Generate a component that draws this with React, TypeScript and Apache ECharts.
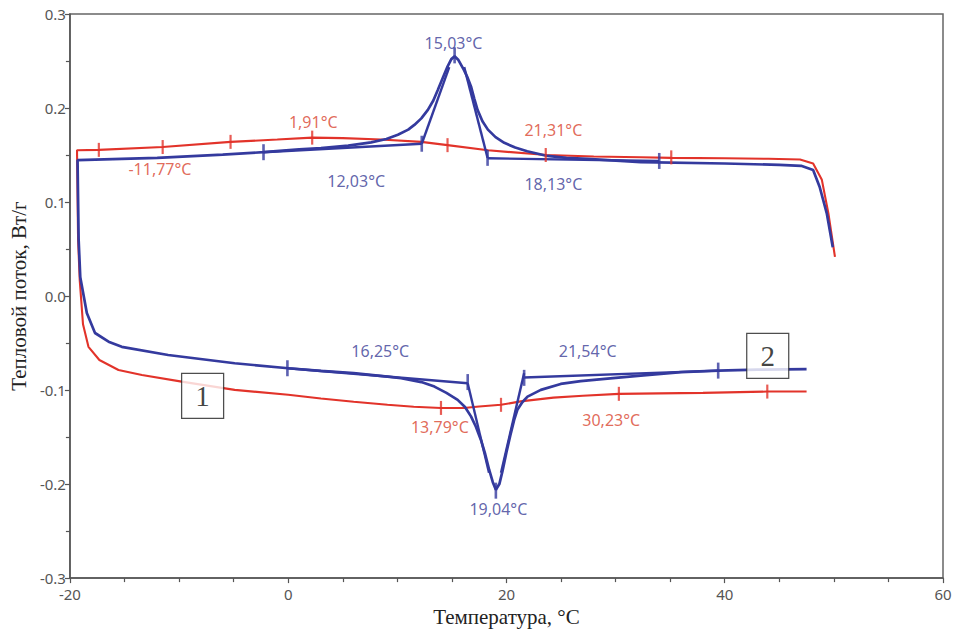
import { useEffect, useRef } from "react";
import * as echarts from "echarts";

// Axis ranges (°C and W/g)
const X_MIN = -20;
const X_MAX = 60;
const X_STEP = 20;
const Y_MIN = -0.3;
const Y_MAX = 0.3;
const Y_STEP = 0.1;

const X_TITLE = "Температура, °C";
const Y_TITLE = "Тепловой поток, Вт/г";

// Curve 1 (red) – lower branch, left to right
const redLower: number[][] = [
  [-19.25, 0.06], [-19.1, 0.017], [-18.8, -0.03], [-18.3, -0.054], [-17.3, -0.068],
  [-15.55, -0.0786], [-13.4, -0.084], [-9.76, -0.091], [-4.9, -0.0998], [0, -0.105],
  [3, -0.109], [6, -0.1125], [9.1, -0.1157], [11.5, -0.1178], [14, -0.119], [16.1, -0.119],
  [17.5, -0.1175], [19.5, -0.1157], [21.3, -0.112], [24.3, -0.108], [27, -0.106],
  [30.3, -0.104], [34, -0.1035], [38, -0.103], [43.9, -0.1016], [47.5, -0.1016],
];
// Curve 1 (red) – upper branch, left to right
const redUpper: number[][] = [
  [-19.35, 0.155], [-17.35, 0.1555], [-11.5, 0.1585], [-5.28, 0.164], [-1, 0.1665],
  [2.2, 0.1685], [5, 0.168], [8.5, 0.1665], [12.2, 0.164], [14.6, 0.1605], [18.3, 0.155],
  [23.7, 0.15], [28, 0.1485], [32.3, 0.1477], [35.1, 0.147], [40, 0.1465], [44, 0.146],
  [46.9, 0.1452], [48.1, 0.141], [48.9, 0.1236], [49.5, 0.0878], [50.1, 0.0417],
];

// Curve 2 (blue) – lower branch, left to right
const blueLower: number[][] = [
  [-19.2, 0.06], [-19.05, 0.02], [-18.45, -0.018], [-17.7, -0.0393], [-16.46, -0.0485],
  [-15.25, -0.054], [-11, -0.0627], [-4.9, -0.0715], [0, -0.0768], [3, -0.0795],
  [6, -0.082], [9.1, -0.0857], [10.35, -0.0874], [12.2, -0.0915], [13.4, -0.0963],
  [14.5, -0.103], [15.53, -0.1104], [16.2, -0.118], [16.75, -0.128], [17.2, -0.139],
  [17.66, -0.153], [18.05, -0.168], [18.42, -0.185], [18.75, -0.198], [19.03, -0.206],
  [19.35, -0.2], [19.64, -0.186], [20.0, -0.166], [20.4, -0.146], [20.7, -0.132],
  [21.0, -0.121], [21.45, -0.113], [21.93, -0.107], [23.15, -0.0998], [24.97, -0.0935],
  [26.8, -0.0905], [29.5, -0.0875], [32.3, -0.0846], [36, -0.081], [39.4, -0.0793],
  [43, -0.0783], [47.5, -0.0778],
];
// Curve 2 (blue) – upper branch, left to right
const blueUpper: number[][] = [
  [-19.3, 0.1445], [-12, 0.147], [-6, 0.1505], [-2.26, 0.153], [1, 0.156], [3, 0.1575],
  [5.5, 0.16], [7.6, 0.1635], [9, 0.167], [10.05, 0.1715], [11, 0.177], [11.56, 0.182],
  [12.2, 0.189], [12.8, 0.198], [13.3, 0.208], [13.7, 0.219], [14.2, 0.233], [14.6, 0.244],
  [14.95, 0.252], [15.25, 0.255], [15.6, 0.251], [16.1, 0.2405], [16.45, 0.232],
  [16.75, 0.223], [17.05, 0.21], [17.35, 0.198], [17.8, 0.186], [18.3, 0.177], [19, 0.169],
  [19.8, 0.163], [20.8, 0.158], [21.9, 0.154], [23.75, 0.149], [25.5, 0.147], [27.4, 0.146],
  [32.3, 0.1425], [40, 0.141], [45, 0.1395], [47, 0.1385], [48.1, 0.134], [48.7, 0.116],
  [49.35, 0.088], [49.9, 0.052],
];

// Construction (tangent / baseline) segments on curve 2
const blueTangents: number[][][] = [
  [[-2.26, 0.153], [12.24, 0.162]],
  [[12.24, 0.162], [14.76, 0.2435]],
  [[16.13, 0.2435], [18.27, 0.147]],
  [[18.27, 0.1465], [34.0, 0.1437]],
  [[-0.07, -0.0768], [16.45, -0.0927]],
  [[16.45, -0.0927], [18.4, -0.188]],
  [[19.5, -0.188], [21.62, -0.082]],
  [[21.62, -0.0867], [39.4, -0.0793]],
];

// Analysis marks (short vertical ticks)
const redTicks: number[][] = [
  [-17.35, 0.1555], [-11.5, 0.1585], [-5.28, 0.164], [2.2, 0.1685], [14.6, 0.1605],
  [23.6, 0.15], [35.1, 0.1475], [14.0, -0.119], [19.5, -0.1157], [30.3, -0.104],
  [43.9, -0.1016],
];
const blueTicks: number[][] = [
  [-2.26, 0.153], [12.24, 0.162], [15.25, 0.256], [18.27, 0.147], [34.0, 0.1437],
  [-0.07, -0.0768], [16.45, -0.0915], [19.03, -0.207], [21.62, -0.087], [39.4, -0.0793],
];

// Temperature annotations
const redLabelText = ["1,91°C", "21,31°C", "-11,77°C", "13,79°C", "30,23°C"];
const redLabelAt: number[][] = [[2.3, 0.185], [24.3, 0.177], [-11.75, 0.135], [13.9, -0.1396], [29.6, -0.1317]];
const blueLabelText = ["15,03°C", "12,03°C", "18,13°C", "16,25°C", "21,54°C", "19,04°C"];
const blueLabelAt: number[][] = [[15.15, 0.269], [6.23, 0.122], [24.3, 0.1195], [8.44, -0.058], [27.44, -0.058], [19.26, -0.227]];

// Curve number boxes
const curveNumbers = ["1", "2"];
const curveNumberAt: number[][] = [[-7.84, -0.1062], [43.94, -0.0637]];

const RED = "#e2332a";
const BLUE = "#343a9e";
const RED_TEXT = "#d9452f";
const BLUE_TEXT = "#3a3d96";
const SANS = "'Noto Sans', 'Open Sans', sans-serif";
const SERIF = "'Liberation Serif', 'DejaVu Serif', serif";

export default function App() {
  const ref = useRef<HTMLDivElement>(null);

  useEffect(() => {
    if (!ref.current) return;
    const chart = echarts.init(ref.current, undefined, { renderer: "svg" });

    const redPath = [...redLower].reverse().concat(redUpper);
    const bluePath = [...blueLower].reverse().concat(blueUpper);

    const axisCommon = {
      type: "value" as const,
      splitLine: { show: false },
      axisLine: { show: true, onZero: false, lineStyle: { color: "#555", width: 1.5 } },
      axisTick: { show: true, inside: false, length: 5, lineStyle: { color: "#555", width: 1.2 } },
      minorTick: { show: true, length: 4, lineStyle: { color: "#555", width: 1.2 } },
      minorSplitLine: { show: false },
      nameLocation: "middle" as const,
      nameTextStyle: { fontFamily: SERIF, fontSize: 21, color: "#222" },
    };

    const labelStyle = (color: string) => ({
      show: true,
      position: "inside",
      formatter: "{b}",
      color,
      fontFamily: SANS,
      fontSize: 16,
    });

    const series: any[] = [
      {
        type: "line",
        name: "1",
        data: redPath,
        showSymbol: false,
        lineStyle: { color: RED, width: 2.1 },
        z: 2,
      },
      ...blueTangents.map((seg) => ({
        type: "line",
        data: seg,
        showSymbol: false,
        lineStyle: { color: BLUE, width: 2.4 },
        z: 3,
      })),
      {
        type: "line",
        name: "2",
        data: bluePath,
        showSymbol: false,
        lineStyle: { color: BLUE, width: 2.7 },
        z: 3,
      },
      {
        type: "scatter",
        data: redTicks,
        symbol: "rect",
        symbolSize: [2.2, 14],
        itemStyle: { color: RED },
        z: 4,
      },
      {
        type: "scatter",
        data: blueTicks,
        symbol: "rect",
        symbolSize: [2.6, 16],
        itemStyle: { color: BLUE },
        z: 4,
      },
      {
        type: "scatter",
        data: redLabelAt.map((p, i) => ({ value: p, name: redLabelText[i] })),
        symbolSize: 1,
        itemStyle: { color: "transparent" },
        label: labelStyle(RED_TEXT),
        z: 5,
      },
      {
        type: "scatter",
        data: blueLabelAt.map((p, i) => ({ value: p, name: blueLabelText[i] })),
        symbolSize: 1,
        itemStyle: { color: "transparent" },
        label: labelStyle(BLUE_TEXT),
        z: 5,
      },
      {
        type: "scatter",
        data: curveNumberAt.map((p, i) => ({ value: p, name: curveNumbers[i] })),
        symbol: "rect",
        symbolSize: [42, 45],
        itemStyle: { color: "#fff", borderColor: "#222", borderWidth: 1.3 },
        label: {
          show: true,
          position: "inside",
          formatter: "{b}",
          color: "#111",
          fontFamily: SERIF,
          fontSize: 29,
        },
        z: 6,
      },
    ];

    chart.setOption({
      animation: false,
      backgroundColor: "#fff",
      grid: {
        left: 68,
        right: 17,
        top: 14,
        bottom: 53,
        show: true,
        borderColor: "#666",
        borderWidth: 1.5,
        backgroundColor: "transparent",
      },
      xAxis: {
        ...axisCommon,
        min: X_MIN,
        max: X_MAX,
        interval: X_STEP,
        minorTick: { ...axisCommon.minorTick, splitNumber: 4 },
        name: X_TITLE,
        nameGap: 24,
        axisLabel: {
          color: "#555",
          fontFamily: SANS,
          fontSize: 15,
          margin: 8,
          formatter: (v: number) => String(Math.round(v)),
        },
      },
      yAxis: {
        ...axisCommon,
        min: Y_MIN,
        max: Y_MAX,
        interval: Y_STEP,
        minorTick: { ...axisCommon.minorTick, splitNumber: 2 },
        name: Y_TITLE,
        nameGap: 40,
        axisLabel: {
          color: "#555",
          fontFamily: SANS,
          fontSize: 15,
          margin: 4,
          formatter: (v: number) => (Math.abs(v) < 1e-9 ? "0.0" : v.toFixed(1)),
        },
      },
      series,
    });

    return () => chart.dispose();
  }, []);

  return (
    <div
      ref={ref}
      style={{ position: "fixed", left: 0, top: 0, width: 960, height: 632, background: "#fff" }}
    />
  );
}
